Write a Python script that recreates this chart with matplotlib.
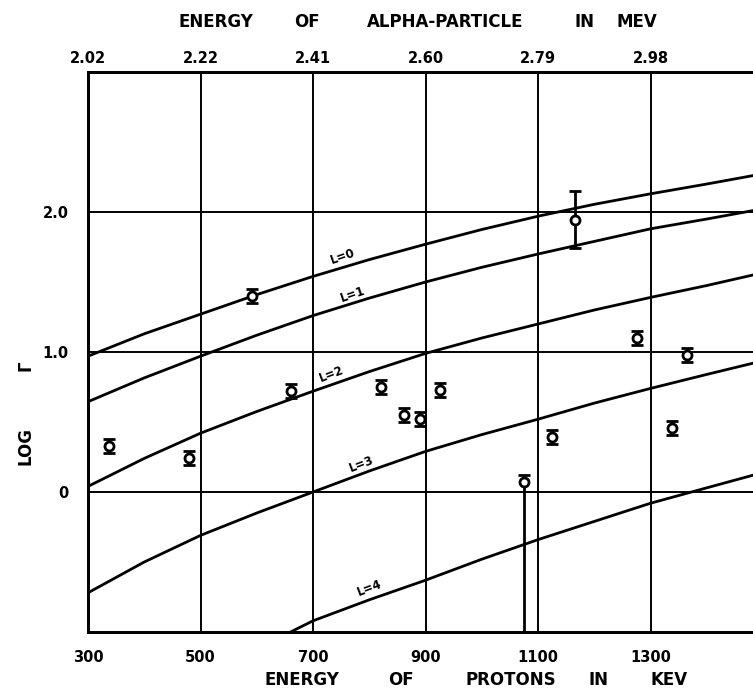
import matplotlib
matplotlib.use("Agg")
import matplotlib.pyplot as plt

# proton energy ticks (keV) and matching alpha-particle energies (MeV)
proton_ticks = [300, 500, 700, 900, 1100, 1300]
proton_labels = ["300", "500", "700", "900", "1100", "1300"]
alpha_labels = ["2.02", "2.22", "2.41", "2.60", "2.79", "2.98"]
log_ticks = [0, 1, 2]
log_labels = ["0", "1.0", "2.0"]

# theoretical curves
curve_e = [300, 400, 500, 600, 700, 800, 900, 1000, 1100, 1200, 1300, 1400, 1482]
l0 = [0.97, 1.13, 1.27, 1.41, 1.54, 1.66, 1.77, 1.875, 1.97, 2.055, 2.13, 2.20, 2.26]
l1 = [0.645, 0.815, 0.97, 1.12, 1.26, 1.385, 1.50, 1.605, 1.70, 1.79, 1.88, 1.95, 2.01]
l2 = [0.04, 0.24, 0.42, 0.575, 0.72, 0.86, 0.99, 1.10, 1.20, 1.30, 1.39, 1.475, 1.55]
l3 = [-0.72, -0.50, -0.31, -0.15, 0.0, 0.15, 0.29, 0.41, 0.52, 0.635, 0.74, 0.84, 0.92]
l4_e = [660, 700, 800, 900, 1000, 1100, 1200, 1300, 1400, 1482]
l4 = [-1.0, -0.92, -0.77, -0.63, -0.48, -0.34, -0.21, -0.08, 0.03, 0.12]

# measured widths
meas_e = [337, 479, 592, 661, 821, 862, 890, 926, 1075, 1125, 1166, 1276, 1338, 1365]
meas_log = [0.33, 0.24, 1.40, 0.72, 0.75, 0.55, 0.52, 0.73, 0.07, 0.39, 1.94, 1.10, 0.46, 0.98]
err_low = [0.05, 0.05, 0.05, 0.05, 0.05, 0.05, 0.05, 0.05, 1.10, 0.05, 0.20, 0.05, 0.05, 0.05]
err_high = [0.05, 0.05, 0.05, 0.05, 0.05, 0.05, 0.05, 0.05, 0.05, 0.05, 0.21, 0.05, 0.05, 0.05]

curve_names = ["L=0", "L=1", "L=2", "L=3", "L=4"]
name_e = [753, 770, 732, 787, 800]
name_log = [1.68, 1.41, 0.84, 0.20, -0.69]
name_rot = [19, 19, 21, 21, 21]

plt.rcParams["font.family"] = "DejaVu Sans"
plt.rcParams["font.weight"] = "bold"

fig = plt.figure(figsize=(7.53, 6.92), dpi=100)
ax = fig.add_axes([88 / 753, 60 / 692, 665 / 753, 560 / 692])
ax.set_xlim(300, 1482)
ax.set_ylim(-1, 3)

# grid
for x in proton_ticks[1:]:
  ax.axvline(x, color="black", lw=1.4, zorder=1)
for y in log_ticks:
  ax.axhline(y, color="black", lw=1.4, zorder=1)

# curves
for y in [l0, l1, l2, l3]:
  ax.plot(curve_e, y, color="black", lw=2, zorder=2)
ax.plot(l4_e, l4, color="black", lw=2, zorder=2)

for name, x, y, r in zip(curve_names, name_e, name_log, name_rot):
  ax.text(x, y, name, rotation=r, fontsize=8.5, fontweight="bold",
          ha="center", va="center", rotation_mode="anchor", zorder=3)

ax.errorbar(meas_e, meas_log, yerr=[err_low, err_high], fmt="o", ms=6.5,
            mfc="white", mec="black", mew=2, ecolor="black", elinewidth=2,
            capsize=4, capthick=2, zorder=4)

ax.set_xticks(proton_ticks)
ax.set_xticklabels(proton_labels)
ax.set_yticks(log_ticks)
ax.set_yticklabels(log_labels)
ax.tick_params(length=0, labelsize=10.5)
ax.tick_params(axis="x", pad=13)
ax.tick_params(axis="y", pad=14)

ax2 = ax.twiny()
ax2.set_xlim(ax.get_xlim())
ax2.set_xticks(proton_ticks)
ax2.set_xticklabels(alpha_labels)
ax2.tick_params(length=0, labelsize=10.5, pad=4)

for a in [ax, ax2]:
  a.spines["right"].set_visible(False)
  for s in ["left", "top", "bottom"]:
    a.spines[s].set_linewidth(2)

# word-spaced axis titles
top_words = ["ENERGY", "OF", "ALPHA-PARTICLE", "IN", "MEV"]
top_x = [216, 307, 445, 585, 637]
for w, x in zip(top_words, top_x):
  fig.text(x / 753, 1 - 22 / 692, w, fontsize=12, fontweight="bold", ha="center", va="center")

bottom_words = ["ENERGY", "OF", "PROTONS", "IN", "KEV"]
bottom_x = [302, 401, 511, 599, 669]
for w, x in zip(bottom_words, bottom_x):
  fig.text(x / 753, 1 - 680 / 692, w, fontsize=12, fontweight="bold", ha="center", va="center")

fig.text(25 / 753, 1 - 446 / 692, "LOG", rotation=90, fontsize=12,
         fontweight="bold", ha="center", va="center")
fig.text(25 / 753, 1 - 366 / 692, "\u0393", rotation=90, fontsize=12,
         fontweight="bold", ha="center", va="center")

fig.savefig("out.png", dpi=100)
